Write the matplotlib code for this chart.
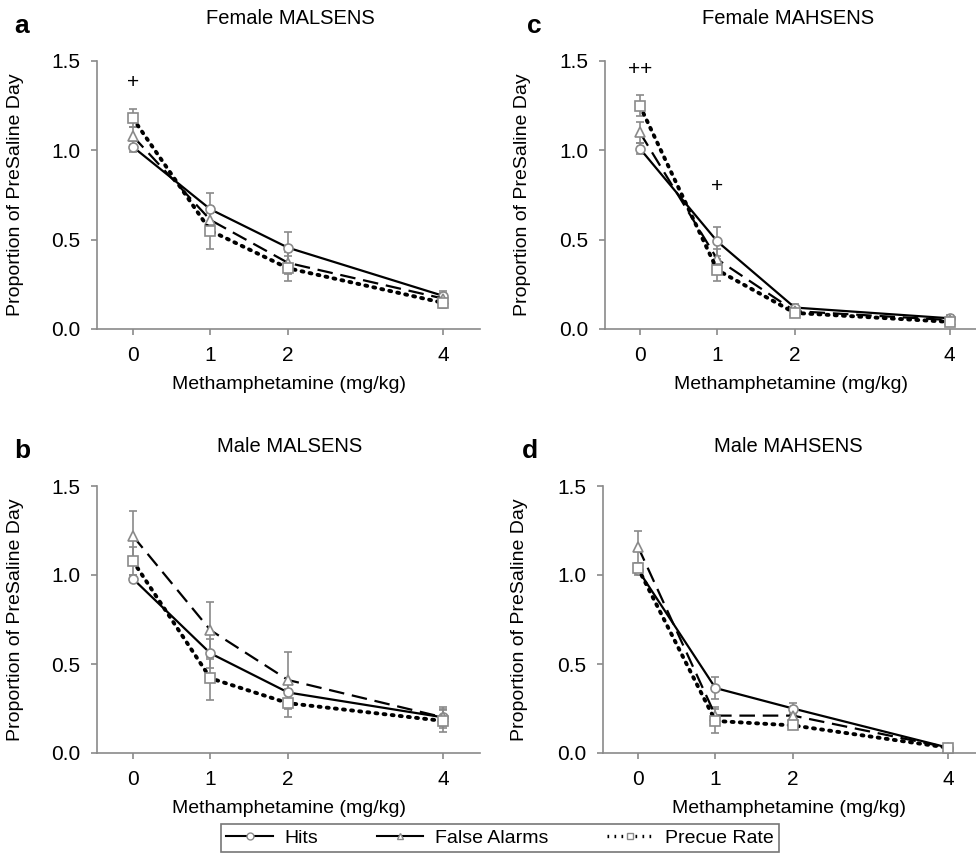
import matplotlib
matplotlib.use('Agg')
import matplotlib.pyplot as plt
from matplotlib.lines import Line2D

plt.rcParams['font.family'] = ['Liberation Sans', 'DejaVu Sans']

# dose levels (mg/kg)
doses = [0, 1, 2, 4]
dose_labels = ['0', '1', '2', '4']

# panel order: a, c, b, d
panel_letters = ['a', 'c', 'b', 'd']
panel_titles = ['Female MALSENS', 'Female MAHSENS', 'Male MALSENS', 'Male MAHSENS']

# means per panel
hits = [
    [1.02, 0.67, 0.455, 0.185],
    [1.01, 0.49, 0.12, 0.06],
    [0.98, 0.56, 0.34, 0.20],
    [1.03, 0.365, 0.25, 0.03],
]
false_alarms = [
    [1.08, 0.61, 0.37, 0.17],
    [1.10, 0.39, 0.10, 0.05],
    [1.22, 0.69, 0.41, 0.20],
    [1.16, 0.21, 0.21, 0.03],
]
precue = [
    [1.18, 0.55, 0.34, 0.146],
    [1.25, 0.33, 0.09, 0.04],
    [1.08, 0.42, 0.28, 0.18],
    [1.04, 0.18, 0.155, 0.03],
]

# error bars (SEM)
hits_err = [
    [0.03, 0.09, 0.09, 0.03],
    [0.03, 0.08, 0.02, 0.02],
    [0.02, 0.08, 0.05, 0.05],
    [0.03, 0.06, 0.03, 0.01],
]
fa_err = [
    [0.05, 0.08, 0.06, 0.03],
    [0.06, 0.06, 0.02, 0.02],
    [0.14, 0.16, 0.16, 0.06],
    [0.09, 0.05, 0.03, 0.01],
]
precue_err = [
    [0.05, 0.10, 0.07, 0.03],
    [0.06, 0.06, 0.02, 0.02],
    [0.08, 0.12, 0.08, 0.06],
    [0.03, 0.07, 0.02, 0.01],
]

# significance marks (panel index, x, y, text)
sig_marks = [(0, 0, 1.38, '+'), (1, 0, 1.45, '++'), (1, 1, 0.80, '+')]

gray = '#8a8a8a'

fig = plt.figure(figsize=(9.76, 8.64), dpi=100)

# axes boxes in figure fraction [left, bottom, width, height]
boxes = [
    [97/976, 1-329/864, (480-97)/976, (329-61)/864],
    [605/976, 1-329/864, (976-605)/976, (329-61)/864],
    [97/976, 1-753/864, (480-97)/976, (753-486)/864],
    [603/976, 1-753/864, (976-603)/976, (753-486)/864],
]
xlims = [(-0.46, 4.47), (-0.45, 4.34), (-0.46, 4.47), (-0.45, 4.36)]
# title / letter positions in pixels (x, y from top)
title_pos = [(290, 18), (788, 18), (290, 446), (788, 446)]
letter_pos = [(14, 26), (527, 26), (14, 451), (522, 451)]
ylabel_x = [-0.19, -0.2, -0.19, -0.2]

dots = (0, (0.5, 1.6))

for i in range(4):
    ax = fig.add_axes(boxes[i])
    ax.errorbar(doses, hits[i], yerr=hits_err[i], color='black', lw=1.6,
                ls='-', marker='o', ms=6.5, mfc='white', mec=gray, mew=1.2,
                ecolor=gray, elinewidth=1.2, capsize=3, capthick=1.2, zorder=3)
    ax.errorbar(doses, false_alarms[i], yerr=fa_err[i], color='black', lw=1.6,
                ls=(0, (7, 3.5)), marker='^', ms=6.5, mfc='white', mec=gray,
                mew=1.2, ecolor=gray, elinewidth=1.2, capsize=3, capthick=1.2,
                zorder=3)
    ax.errorbar(doses, precue[i], yerr=precue_err[i], color='black', lw=2.8,
                ls=dots, dash_capstyle='round', marker='s', ms=6.5,
                mfc='white', mec=gray, mew=1.2,
                ecolor=gray, elinewidth=1.2, capsize=3, capthick=1.2, zorder=3)

    ax.set_xlim(xlims[i])
    ax.set_ylim(0, 1.5)
    ax.set_xticks(doses)
    ax.set_xticklabels(dose_labels)
    ax.set_yticks([0, 0.5, 1.0, 1.5])
    ax.set_yticklabels(['0.0', '0.5', '1.0', '1.5'])
    for s in ['top', 'right']:
        ax.spines[s].set_visible(False)
    for s in ['left', 'bottom']:
        ax.spines[s].set_color(gray)
        ax.spines[s].set_linewidth(1.2)
    ax.tick_params(axis='both', colors=gray, length=4, width=1.2,
                   labelsize=15, labelcolor='black')
    ax.tick_params(axis='x', pad=8)
    ax.tick_params(axis='y', pad=8)
    ax.set_xlabel('Methamphetamine (mg/kg)', fontsize=14, labelpad=8)
    ax.set_ylabel('Proportion of PreSaline Day', fontsize=14)
    ax.yaxis.set_label_coords(ylabel_x[i], 0.5)

    tx, ty = title_pos[i]
    fig.text(tx/976, 1-ty/864, panel_titles[i], fontsize=14.5,
             ha='center', va='center')
    lx, ly = letter_pos[i]
    fig.text(lx/976, 1-ly/864, panel_letters[i], fontsize=19,
             fontweight='bold', ha='left', va='center')

    for p, xv, yv, t in sig_marks:
        if p == i:
            ax.text(xv, yv, t, ha='center', va='center', fontsize=15)

# shared legend
handles = [
    Line2D([], [], color='black', lw=1.5, ls='-', marker='o', ms=5,
           mfc='white', mec=gray),
    Line2D([], [], color='black', lw=1.5, ls='-', marker='^', ms=5,
           mfc='white', mec=gray),
    Line2D([], [], color='black', lw=2.4, ls=dots, marker='s', ms=5,
           mfc='white', mec=gray),
]
leg = fig.legend(handles, ['Hits', 'False Alarms', 'Precue Rate'],
                 loc='center', bbox_to_anchor=(500/976, 1-838/864), ncol=3,
                 fontsize=14, frameon=True, fancybox=False, handlelength=2.4,
                 columnspacing=3.0, borderpad=0.25, handletextpad=0.6)
leg.get_frame().set_edgecolor('#555555')
leg.get_frame().set_linewidth(1.2)

fig.savefig('out.png', dpi=100)
